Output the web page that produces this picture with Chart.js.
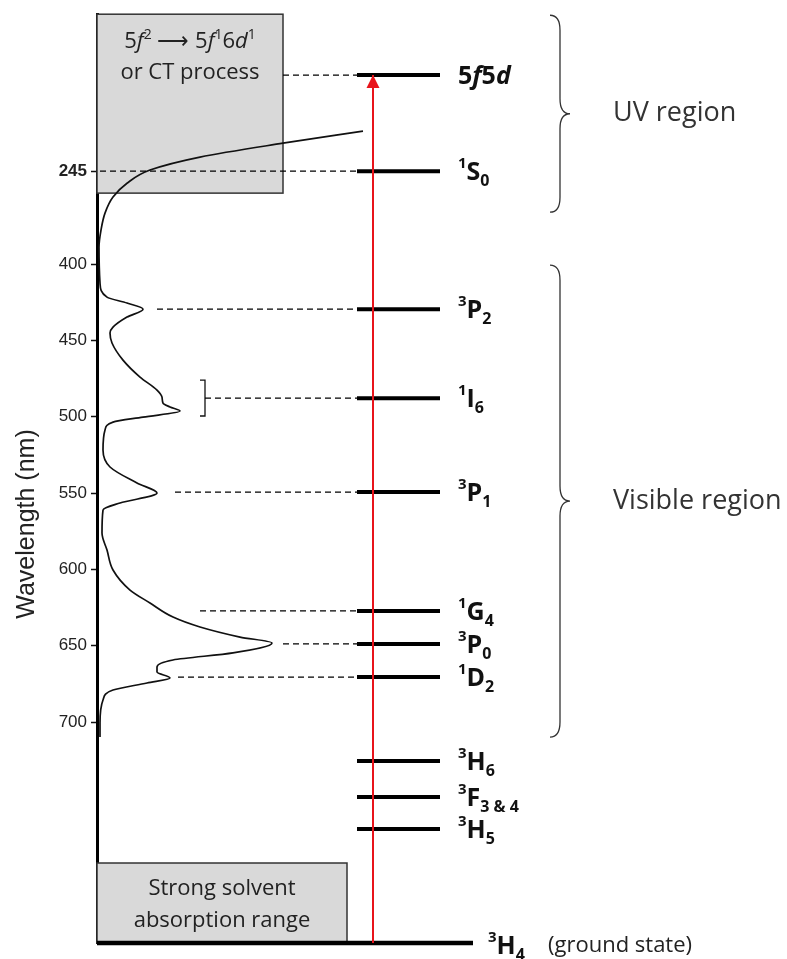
<!DOCTYPE html>
<html>
<head>
<meta charset="utf-8">
<script src="https://cdn.jsdelivr.net/npm/chart.js@4.4.1/dist/chart.umd.min.js"></script>
<style>
  html, body { margin: 0; padding: 0; background: #fff; }
  #wrap { width: 787px; height: 959px; }
</style>
</head>
<body>
<div id="wrap"><canvas id="chart"></canvas></div>
<script>
// Vertical scale runs in nm from 400 to 700; above 400 the UV part is squeezed,
// so the 245 nm tick sits at position 339.1 on the same scale.
const tickPositions = [339.1, 400, 450, 500, 550, 600, 650, 700];
const tickLabels = ['245', '400', '450', '500', '550', '600', '650', '700'];

// absorption spectrum (position on wavelength scale, absorbance in plot units)
const specPos = [312.9, 320.8, 329.9, 338.4, 347.0, 356.1, 366.6, 377.7, 388.9,
  412.4, 421.6, 425.5, 429.5, 434.7, 441.3, 445.2, 451.7, 462.9, 474.0,
  482.5, 487.1, 491.0, 493.6, 496.3, 500.2, 503.5, 508.7, 521.8, 532.9,
  543.4, 550.0, 556.5, 561.1, 576.2, 587.3, 600.4, 613.5, 622.0, 631.2,
  637.7, 644.3, 648.2, 654.7, 659.3, 663.9, 667.2, 671.1, 674.4, 679.0,
  685.5, 700.6, 709.8];
const specAbs = [266, 186, 103, 53, 30, 16, 8, 4, 2,
  3, 10, 30, 46, 30, 16, 13, 15, 26, 43,
  60, 65, 66, 73, 83, 46, 16, 8, 6, 13,
  40, 60, 23, 6, 5, 10, 16, 33, 53, 76,
  103, 143, 175, 136, 76, 60, 60, 73, 50, 16,
  6, 3, 3];

// U(IV) 5f2 energy levels
const levelMult   = ['', '1', '3', '1', '3', '1', '3', '1', '3', '3', '3', '3'];
const levelLetter = ['5f5d', 'S', 'P', 'I', 'P', 'G', 'P', 'D', 'H', 'F', 'H', 'H'];
const levelJ      = ['', '0', '2', '6', '1', '4', '0', '2', '6', '3 & 4', '5', '4'];
const levelPos    = [276.2, 339.1, 429.5, 487.8, 549.3, 627.2, 648.8, 670.5, 725.5, 749.1, 770.0, 844.7];

const regionNames = ['UV region', 'Visible region'];
const regionFrom = [237, 400.7];
const regionTo = [366, 709.8];

// where each dashed guide starts (absorbance units), null = no guide
const guideFrom = [186, 3, 60, 108, 78, 103, 186, 81, null, null, null, null];
const LEVEL_X0 = 260, LEVEL_X1 = 343, ARROW_X = 276;
const GROUND = levelPos.length - 1;
const SANS = '"Open Sans"';

const datasets = [];

// excitation arrow from the ground state up to 5f5d
datasets.push({
  data: [{ x: ARROW_X, y: levelPos[GROUND] }, { x: ARROW_X, y: levelPos[0] }],
  borderColor: '#e8141b', borderWidth: 2
});

levelPos.forEach((p, i) => {
  const x0 = i === GROUND ? 0 : LEVEL_X0;
  const x1 = i === GROUND ? 376 : LEVEL_X1;
  datasets.push({
    data: [{ x: x0, y: p }, { x: x1, y: p }],
    borderColor: '#000', borderWidth: i === GROUND ? 4.5 : 4, borderCapStyle: 'butt'
  });
  if (guideFrom[i] !== null) {
    datasets.push({
      data: [{ x: guideFrom[i], y: p }, { x: LEVEL_X0, y: p }],
      borderColor: '#000', borderWidth: 1.2, borderDash: [6, 4]
    });
  }
});

// bracket grouping the 1I6 band
datasets.push({
  data: [{ x: 103, y: 476.0 }, { x: 108, y: 476.0 }, { x: 108, y: 499.5 }, { x: 103, y: 499.5 }],
  borderColor: '#111', borderWidth: 1.3
});

datasets.push({
  data: specPos.map((p, i) => ({ x: specAbs[i], y: p })),
  borderColor: '#111', borderWidth: 1.7,
  cubicInterpolationMode: 'monotone'
});

datasets.forEach(d => { d.clip = false; d.pointRadius = 0; d.fill = false; });

function drawRich(ctx, x, y, parts, align) {
  let w = 0;
  parts.forEach(p => { ctx.font = p.font; w += ctx.measureText(p.t).width; });
  let cx = align === 'center' ? x - w / 2 : x;
  parts.forEach(p => {
    ctx.font = p.font;
    ctx.fillText(p.t, cx, y + (p.dy || 0));
    cx += ctx.measureText(p.t).width;
  });
  return cx;
}

function termParts(i) {
  const big = 'bold 25px ' + SANS, small = 'bold 15px ' + SANS, sub = 'bold 16px ' + SANS;
  if (levelLetter[i] === '5f5d') {
    return [{ t: '5', font: big }, { t: 'f', font: 'italic ' + big },
            { t: '5', font: big }, { t: 'd', font: 'italic ' + big }];
  }
  return [{ t: levelMult[i], font: small, dy: -12 },
          { t: levelLetter[i], font: big },
          { t: levelJ[i], font: sub, dy: 6 }];
}

function brace(ctx, x, top, bot, w) {
  const mid = (top + bot) / 2;
  ctx.beginPath();
  ctx.moveTo(x - w, top);
  ctx.quadraticCurveTo(x, top, x, top + w * 1.5);
  ctx.lineTo(x, mid - w * 1.5);
  ctx.quadraticCurveTo(x, mid, x + w, mid);
  ctx.quadraticCurveTo(x, mid, x, mid + w * 1.5);
  ctx.lineTo(x, bot - w * 1.5);
  ctx.quadraticCurveTo(x, bot, x - w, bot);
  ctx.stroke();
}

const diagram = {
  id: 'diagram',
  beforeDatasetsDraw(chart) {
    const { ctx, scales: { x, y } } = chart;
    ctx.save();
    ctx.fillStyle = '#d9d9d9';
    ctx.strokeStyle = '#333';
    ctx.lineWidth = 1.5;
    // charge-transfer box and solvent box
    [[0, 186, 236.3, 353.5], [0, 250, 792.3, 844.7]].forEach(b => {
      const l = x.getPixelForValue(b[0]), r = x.getPixelForValue(b[1]);
      const t = y.getPixelForValue(b[2]), btm = y.getPixelForValue(b[3]);
      ctx.fillRect(l, t, r - l, btm - t);
      ctx.strokeRect(l, t, r - l, btm - t);
    });
    ctx.restore();
  },
  afterDatasetsDraw(chart) {
    const { ctx, scales: { x, y } } = chart;
    ctx.save();

    // arrow head
    const ax = x.getPixelForValue(ARROW_X), ay = y.getPixelForValue(levelPos[0]);
    ctx.fillStyle = '#e8141b';
    ctx.beginPath();
    ctx.moveTo(ax, ay);
    ctx.lineTo(ax - 6.5, ay + 13);
    ctx.lineTo(ax + 6.5, ay + 13);
    ctx.closePath();
    ctx.fill();

    // term symbols
    ctx.fillStyle = '#111';
    ctx.textAlign = 'left';
    ctx.textBaseline = 'alphabetic';
    levelPos.forEach((p, i) => {
      const py = y.getPixelForValue(p) + 9;
      if (i === GROUND) {
        drawRich(ctx, x.getPixelForValue(391), py + 2, termParts(i));
        ctx.font = '22px ' + SANS;
        ctx.fillStyle = '#222';
        ctx.fillText('(ground state)', x.getPixelForValue(451), py);
        ctx.fillStyle = '#111';
      } else {
        drawRich(ctx, x.getPixelForValue(361), py, termParts(i));
      }
    });

    // region braces
    ctx.strokeStyle = '#333';
    ctx.lineWidth = 1.3;
    regionNames.forEach((name, i) => {
      const t = y.getPixelForValue(regionFrom[i]), b = y.getPixelForValue(regionTo[i]);
      brace(ctx, x.getPixelForValue(463), t, b, 10);
      ctx.font = '27px ' + SANS;
      ctx.fillStyle = '#333';
      ctx.textBaseline = 'middle';
      ctx.fillText(name, x.getPixelForValue(516), (t + b) / 2);
    });

    // box captions
    ctx.fillStyle = '#222';
    ctx.textBaseline = 'alphabetic';
    const n = '22px ' + SANS, it = 'italic 22px ' + SANS, sup = '14px ' + SANS;
    const bx = x.getPixelForValue(93), by = y.getPixelForValue(236.3);
    drawRich(ctx, bx, by + 34, [
      { t: '5', font: n }, { t: 'f', font: it }, { t: '2', font: sup, dy: -9 },
      { t: ' \u27F6 5', font: n }, { t: 'f', font: it }, { t: '1', font: sup, dy: -9 },
      { t: '6', font: n }, { t: 'd', font: it }, { t: '1', font: sup, dy: -9 }
    ], 'center');
    ctx.textAlign = 'center';
    ctx.font = n;
    ctx.fillText('or CT process', bx, by + 65);

    const sx = x.getPixelForValue(125), sy = y.getPixelForValue(792.3);
    ctx.fillText('Strong solvent', sx, sy + 32);
    ctx.fillText('absorption range', sx, sy + 64);

    // axis title, set a little below the middle of the axis
    ctx.save();
    ctx.translate(27, 524);
    ctx.rotate(-Math.PI / 2);
    ctx.textAlign = 'center';
    ctx.textBaseline = 'middle';
    ctx.font = '25px "Liberation Sans"';
    ctx.fillStyle = '#222';
    ctx.fillText('Wavelength (nm)', 0, 0);
    ctx.restore();

    ctx.restore();
  }
};

const ctx = document.getElementById('chart').getContext('2d');

new Chart(ctx, {
  type: 'line',
  data: { datasets: datasets },
  plugins: [diagram],
  options: {
    responsive: true,
    maintainAspectRatio: false,
    animation: false,
    indexAxis: 'y',
    layout: { padding: { top: 14, bottom: 16, left: 0, right: 0 } },
    plugins: { legend: { display: false }, tooltip: { enabled: false } },
    elements: { line: { tension: 0 } },
    scales: {
      x: { type: 'linear', display: false, min: 0, max: 690 },
      y: {
        type: 'linear',
        reverse: true,
        min: 236.3,
        max: 844.7,
        afterFit: scale => { scale.width = 97; },
        afterBuildTicks: scale => {
          scale.ticks = tickPositions.map(v => ({ value: v }));
        },
        ticks: {
          padding: 4,
          color: '#222',
          callback: value => tickLabels[tickPositions.indexOf(value)],
          font: c => ({
            family: 'Liberation Sans',
            size: 17,
            weight: c.tick && c.tick.value < 400 ? 'bold' : 'normal'
          })
        },
        grid: { drawOnChartArea: false, drawTicks: true, tickLength: 6, tickWidth: 1.5, color: '#111' },
        border: { display: true, color: '#000', width: 3 }
      }
    }
  }
});
</script>
</body>
</html>
